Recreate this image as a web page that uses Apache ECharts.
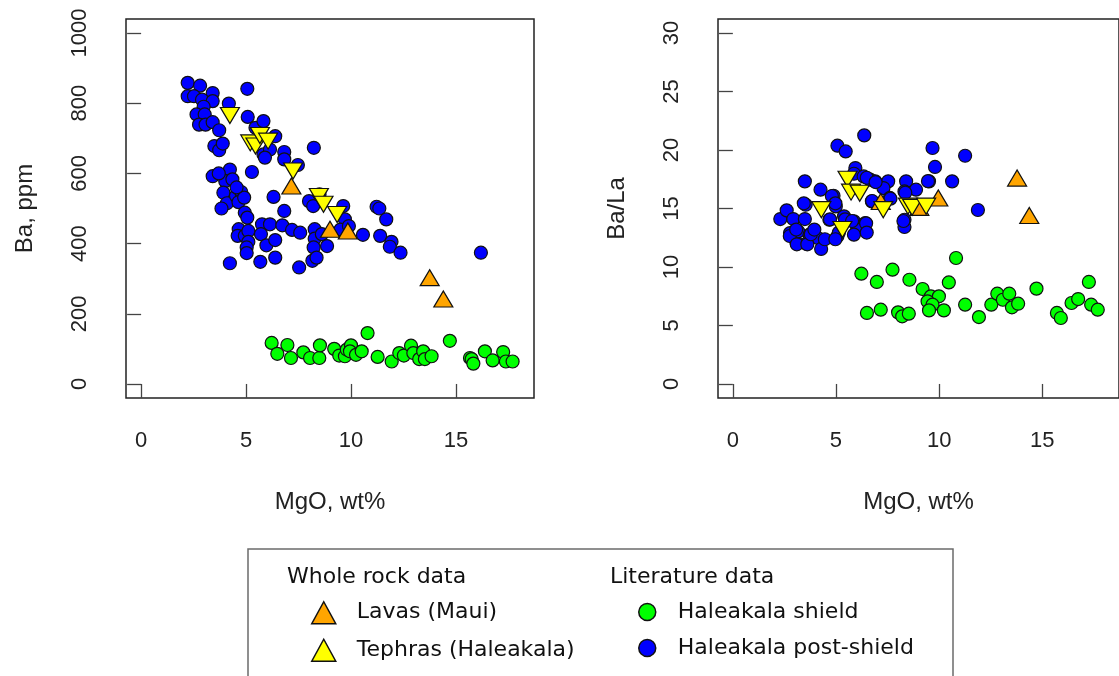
<!DOCTYPE html>
<html>
<head>
<meta charset="utf-8">
<title>Haleakala Ba and Ba/La vs MgO</title>
<script src="https://cdn.jsdelivr.net/npm/echarts@6/dist/echarts.min.js"></script>
<style>
  html, body { margin: 0; padding: 0; background: #ffffff; }
  #chart { width: 1119px; height: 676px; }
</style>
</head>
<body>
<div id="chart"></div>
<script>
// ---- tick labels ----
const mgoTicks = [0, 5, 10, 15];
const baTicks = [0, 200, 400, 600, 800, 1000];
const baLaTicks = [0, 5, 10, 15, 20, 25, 30];

// ---- Ba (ppm) vs MgO (wt%) ----
const lavasBa = [[7.16, 564], [9.0, 441], [9.85, 436], [13.75, 303], [14.4, 242]];
const tephrasBa = [[4.23, 765], [5.2, 687], [5.45, 678], [5.66, 708], [6.05, 692],
  [7.24, 607], [8.47, 534], [8.69, 512], [9.34, 483]];
const shieldBa = [[6.22, 117], [6.49, 86], [6.97, 111], [7.14, 74], [7.73, 90], [8.05, 74],
  [8.49, 74], [8.52, 110], [9.2, 100], [9.44, 81], [9.71, 79], [9.8, 98], [10.0, 110],
  [9.95, 93], [10.24, 83], [10.51, 93], [10.79, 145], [11.27, 77], [11.94, 64], [12.3, 88],
  [12.52, 81], [12.86, 109], [12.97, 88], [13.25, 71], [13.44, 93], [13.52, 71], [13.84, 79],
  [14.71, 123], [15.67, 74], [15.75, 71], [15.83, 58], [16.38, 93], [16.75, 67], [17.25, 91],
  [17.38, 64], [17.7, 64]];
const postShieldBa = [[2.22, 858], [2.81, 850], [3.41, 829], [2.22, 820], [2.52, 820],
  [2.9, 810], [3.41, 806], [2.98, 790], [2.64, 768], [3.03, 768], [2.76, 739], [3.07, 739],
  [3.41, 746], [3.72, 723], [3.49, 678], [3.72, 666], [3.89, 685], [4.18, 799], [5.06, 841],
  [5.08, 761], [5.45, 730], [5.83, 749], [5.83, 654], [6.39, 706], [6.82, 661], [6.82, 640],
  [7.47, 624], [8.23, 673], [3.41, 592], [4.23, 611], [4.01, 578], [4.35, 583], [3.92, 545],
  [4.09, 515], [3.83, 500], [4.52, 536], [4.77, 547], [4.64, 518], [4.91, 531], [5.28, 604],
  [6.31, 533], [6.82, 493], [8.0, 521], [8.2, 507], [4.94, 488], [5.06, 474], [4.65, 441],
  [4.6, 422], [4.94, 422], [5.11, 436], [5.11, 405], [5.03, 389], [5.03, 373], [5.76, 455],
  [6.14, 455], [5.71, 427], [5.97, 395], [6.39, 410], [6.73, 452], [7.19, 439], [7.58, 431],
  [4.23, 344], [5.68, 348], [6.39, 360], [7.53, 332], [8.27, 441], [8.27, 414], [8.22, 389],
  [8.16, 351], [8.36, 360], [8.61, 427], [8.86, 393], [9.63, 507], [9.71, 469], [9.5, 440],
  [10.57, 425], [11.22, 505], [11.35, 500], [11.68, 469], [11.39, 422], [11.93, 405],
  [11.85, 391], [12.36, 374], [16.19, 374], [6.14, 668], [5.9, 645], [8.5, 540], [9.9, 450],
  [4.55, 560], [3.7, 600]];

// ---- Ba/La vs MgO (wt%) ----
const lavasBaLa = [[7.17, 15.6], [9.04, 15.1], [9.96, 15.9], [13.78, 17.6], [14.37, 14.4]];
const tephrasBaLa = [[4.29, 14.9], [5.31, 13.2], [5.56, 17.5], [5.73, 16.4], [6.15, 16.3],
  [7.29, 14.9], [8.49, 15.2], [8.69, 15.1], [9.37, 15.2]];
const shieldBaLa = [[6.23, 9.43], [6.98, 8.72], [7.74, 9.77], [8.56, 8.91], [9.2, 8.12],
  [10.47, 8.68], [10.82, 10.77], [9.6, 7.49], [9.99, 7.49], [9.44, 7.06], [9.68, 6.78],
  [10.23, 6.29], [9.51, 6.29], [6.5, 6.07], [7.17, 6.35], [8.01, 6.12], [8.21, 5.78],
  [8.53, 6.01], [11.26, 6.78], [11.93, 5.72], [12.53, 6.78], [12.82, 7.72], [13.09, 7.2],
  [13.4, 7.72], [13.53, 6.55], [13.83, 6.86], [14.72, 8.15], [15.71, 6.07], [15.9, 5.64],
  [16.42, 6.92], [16.74, 7.26], [17.26, 8.72], [17.37, 6.78], [17.69, 6.35]];
const postShieldBaLa = [[2.3, 14.1], [2.61, 14.84], [2.77, 12.9], [2.93, 14.1], [3.09, 12.05],
  [3.17, 13.04], [3.49, 17.32], [3.53, 15.32], [3.49, 14.1], [3.56, 11.99], [3.72, 12.76],
  [4.12, 12.48], [4.25, 16.61], [4.28, 11.54], [4.68, 14.04], [4.88, 16.09], [4.99, 15.18],
  [5.07, 12.62], [5.39, 14.33], [5.87, 13.9], [6.42, 13.76], [6.02, 13.19], [5.87, 12.76],
  [5.07, 20.37], [5.47, 19.88], [6.37, 21.25], [5.94, 18.46], [5.87, 17.97], [6.34, 17.74],
  [6.66, 17.46], [6.9, 17.32], [7.53, 17.32], [7.3, 16.75], [7.61, 15.9], [6.74, 15.61],
  [8.4, 17.32], [8.32, 16.46], [8.88, 16.61], [9.51, 17.32], [10.63, 17.32], [8.32, 14.04],
  [8.32, 13.42], [9.68, 20.17], [9.8, 18.55], [11.26, 19.51], [11.88, 14.87], [2.76, 12.65],
  [3.07, 13.2], [3.1, 11.94], [3.44, 15.44], [3.61, 11.94], [3.78, 12.8], [3.95, 13.2],
  [4.46, 12.37], [4.8, 16.07], [4.71, 14.07], [4.97, 15.44], [5.14, 12.94], [4.97, 12.37],
  [5.44, 14.07], [5.78, 13.93], [6.46, 13.73], [6.49, 12.94], [6.49, 17.63], [6.92, 17.26],
  [6.75, 15.64], [7.64, 15.84], [8.36, 16.35], [8.27, 13.93], [9.46, 17.34]];

const AXIS_FONT = 'Liberation Sans, Arial, Helvetica, sans-serif';
const LEGEND_FONT = 'DejaVu Sans, Verdana, sans-serif';
const TEXT = '#222222';

// plain integers, no thousands separator
function plain(v) { return String(v); }

function xAxisFor(grid) {
  return {
    type: 'value', gridIndex: grid, min: -0.72, max: 18.72,
    splitLine: { show: false },
    axisLine: { show: false },
    axisTick: { show: true, customValues: mgoTicks, length: 14, inside: false,
      lineStyle: { color: '#444', width: 1.3 } },
    axisLabel: { customValues: mgoTicks, formatter: plain, margin: 32, fontSize: 22,
      fontFamily: AXIS_FONT, color: TEXT },
    name: 'MgO, wt%', nameLocation: 'middle', nameGap: 92,
    nameTextStyle: { fontSize: 24, fontFamily: AXIS_FONT, color: TEXT }
  };
}

function yAxisFor(grid, min, max, ticks, title) {
  return {
    type: 'value', gridIndex: grid, min: min, max: max,
    splitLine: { show: false },
    axisLine: { show: false },
    axisTick: { show: true, customValues: ticks, length: 14, inside: false,
      lineStyle: { color: '#444', width: 1.3 } },
    axisLabel: { customValues: ticks, formatter: plain, rotate: 90, margin: 35, fontSize: 22,
      fontFamily: AXIS_FONT, color: TEXT },
    name: title, nameLocation: 'middle', nameRotate: 90, nameGap: 89,
    nameTextStyle: { fontSize: 24, fontFamily: AXIS_FONT, color: TEXT }
  };
}

function dots(name, data, grid, color, symbol, size, rotate, z) {
  return {
    type: 'scatter', name: name, data: data,
    xAxisIndex: grid, yAxisIndex: grid,
    symbol: symbol, symbolSize: size, symbolRotate: rotate,
    itemStyle: { color: color, borderColor: '#111', borderWidth: 1.2, opacity: 1 },
    emphasis: { disabled: true }, z: z
  };
}

const ORANGE = '#FFA500', YELLOW = '#FFFF00', GREEN = '#00FF00', BLUE = '#0000FF';
const TRI = [19, 16], DOT = 13;

const series = [];
[0, 1].forEach(function (g) {
  const ba = g === 0;
  series.push(dots('Haleakala post-shield', ba ? postShieldBa : postShieldBaLa, g, BLUE, 'circle', DOT, 0, 2));
  series.push(dots('Haleakala shield', ba ? shieldBa : shieldBaLa, g, GREEN, 'circle', DOT, 0, 3));
  series.push(dots('Lavas (Maui)', ba ? lavasBa : lavasBaLa, g, ORANGE, 'triangle', TRI, 0, 4));
  series.push(dots('Tephras (Haleakala)', ba ? tephrasBa : tephrasBaLa, g, YELLOW, 'triangle', TRI, 180, 5));
});

const legendText = { fontFamily: LEGEND_FONT, fontSize: 22, color: '#111', lineHeight: 22 };

const option = {
  animation: false,
  backgroundColor: '#ffffff',
  grid: [
    { left: 126, top: 19, width: 408, height: 379, show: true, borderColor: '#222', borderWidth: 1.5 },
    { left: 718, top: 19, width: 408, height: 379, show: true, borderColor: '#222', borderWidth: 1.5 }
  ],
  xAxis: [xAxisFor(0), xAxisFor(1)],
  yAxis: [
    yAxisFor(0, -40, 1040, baTicks, 'Ba, ppm'),
    yAxisFor(1, -1.2, 31.2, baLaTicks, 'Ba/La')
  ],
  legend: [
    {
      data: [{ name: 'Lavas (Maui)', icon: 'triangle' }, { name: 'Tephras (Haleakala)', icon: 'triangle' }],
      orient: 'vertical', left: 311, top: 601, padding: 0,
      itemWidth: 24, itemHeight: 22, itemGap: 14,
      symbolRotate: 0, selectedMode: false,
      itemStyle: { borderColor: '#111', borderWidth: 1.5 },
      textStyle: Object.assign({ padding: [0, 0, 0, 16] }, legendText)
    },
    {
      data: ['Haleakala shield', 'Haleakala post-shield'], icon: 'circle',
      orient: 'vertical', left: 638, top: 601, padding: 0,
      itemWidth: 17, itemHeight: 17, itemGap: 14,
      selectedMode: false,
      itemStyle: { borderColor: '#111', borderWidth: 1.5 },
      textStyle: Object.assign({ padding: [0, 0, 0, 17] }, legendText)
    }
  ],
  graphic: [
    { type: 'rect', shape: { x: 248, y: 549, width: 705, height: 150 },
      style: { fill: 'none', stroke: '#6b6b6b', lineWidth: 1.5 }, silent: true },
    { type: 'text', x: 287, y: 577,
      style: { text: 'Whole rock data', font: '22px ' + LEGEND_FONT, fill: '#111', verticalAlign: 'middle' } },
    { type: 'text', x: 610, y: 577,
      style: { text: 'Literature data', font: '22px ' + LEGEND_FONT, fill: '#111', verticalAlign: 'middle' } }
  ],
  series: series
};

const chart = echarts.init(document.getElementById('chart'), null, { renderer: 'canvas' });
chart.setOption(option);
</script>
</body>
</html>
